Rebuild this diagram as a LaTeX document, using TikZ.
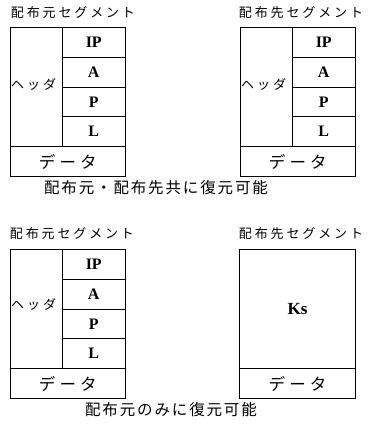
\documentclass[tikz,border=0pt]{standalone}
\usepackage{fontspec}
\setmainfont{Liberation Serif}
\newfontfamily\jptitle[LetterSpace=22]{Noto Sans CJK JP}
\newfontfamily\jpcap[LetterSpace=12]{Noto Sans CJK JP}
\newfontfamily\jphead[LetterSpace=23]{Noto Sans CJK JP}
\newfontfamily\jpdata[LetterSpace=25]{Noto Sans CJK JP}
\begin{document}
\begin{tikzpicture}[x=1pt,y=-1pt,
  cell/.style={draw, line width=1pt, rectangle, inner sep=0pt, anchor=north west},
  fld/.style={cell, minimum width=62.5pt, minimum height=29.75pt, font=\fontsize{16}{16}\selectfont\bfseries},
  hdr/.style={cell, minimum width=52pt, minimum height=119pt},
  dat/.style={cell, minimum width=114.5pt, minimum height=30pt, font=\jpdata\fontsize{16.5}{17}\selectfont},
  ttl/.style={font=\jptitle\fontsize{13}{13}\selectfont, inner sep=0pt},
  captxt/.style={font=\jpcap\fontsize{15.5}{16}\selectfont, inner sep=0pt},
  hlab/.style={font=\jphead\fontsize{13}{13}\selectfont, inner sep=0pt, anchor=west}]
\useasboundingbox (0,0) rectangle (367,428);
% ---- top left
\node[ttl] (t1) at (73,13) {配布元セグメント};
\node[hdr] (h1) at (10,27) {};
\node[hlab] (h1l) at (11,84) {ヘッダ};
\node[fld] (ip1) at (62,27) {IP};
\node[fld] (a1) at (62,56.75) {A};
\node[fld] (p1) at (62,86.5) {P};
\node[fld] (l1) at (62,116.25) {L};
\node[dat] (d1) at (10,146) {データ};
% ---- top right
\node[ttl] (t2) at (301,13) {配布先セグメント};
\node[hdr] (h2) at (240,27) {};
\node[hlab] (h2l) at (241,84) {ヘッダ};
\node[fld] (ip2) at (292,27) {IP};
\node[fld] (a2) at (292,56.75) {A};
\node[fld] (p2) at (292,86.5) {P};
\node[fld] (l2) at (292,116.25) {L};
\node[dat] (d2) at (240,146) {データ};
\node[captxt] (c1) at (156,188) {配布元・配布先共に復元可能};
% ---- bottom left
\node[ttl] (t3) at (72,234) {配布元セグメント};
\node[hdr] (h3) at (10,249) {};
\node[hlab] (h3l) at (11,304) {ヘッダ};
\node[fld] (ip3) at (62,249) {IP};
\node[fld] (a3) at (62,278.75) {A};
\node[fld] (p3) at (62,308.5) {P};
\node[fld] (l3) at (62,338.25) {L};
\node[dat] (d3) at (10,368) {データ};
% ---- bottom right
\node[ttl] (t4) at (301,234) {配布先セグメント};
\node[cell, minimum width=116pt, minimum height=119pt, font=\fontsize{17}{17}\selectfont\bfseries] (ks) at (239,249) {Ks};
\node[dat, minimum width=116pt] (d4) at (239,368) {データ};
\node[captxt] (c2) at (171,410) {配布元のみに復元可能};
\end{tikzpicture}
\end{document}
